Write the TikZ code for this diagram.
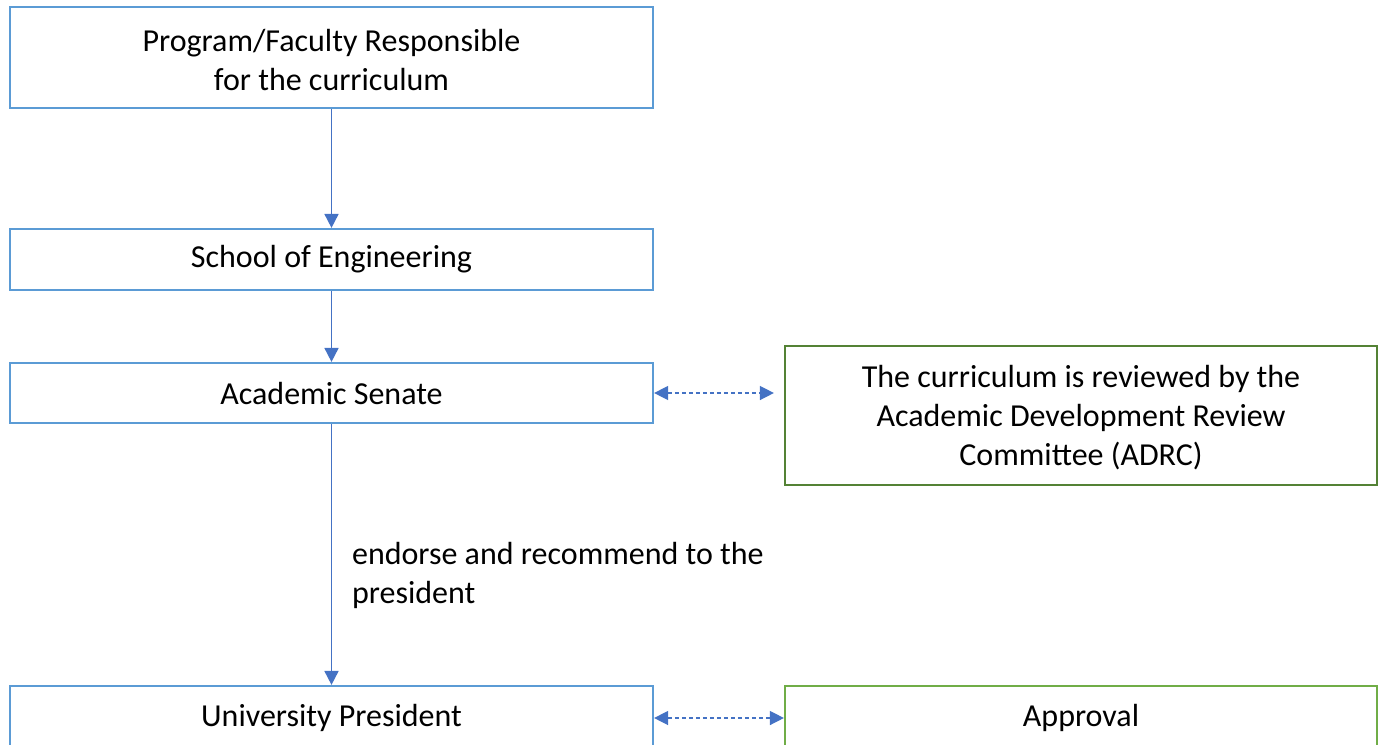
\documentclass[tikz,border=0pt]{standalone}
\usepackage{fontspec}
\setmainfont{Carlito}
\usetikzlibrary{arrows.meta}
\definecolor{boxblue}{HTML}{5B9BD5}
\definecolor{arrblue}{HTML}{4472C4}
\definecolor{dkgreen}{HTML}{548235}
\definecolor{ltgreen}{HTML}{70AD47}
\begin{document}
\begin{tikzpicture}[x=0.5pt,y=-0.5pt,
  txt/.style={font=\fontsize{16}{19.5}\selectfont},
  box/.style={draw=boxblue,line width=1.1pt,minimum width=643*0.5pt,inner sep=0pt,align=center,txt},
  gbox/.style={draw=dkgreen,line width=1.1pt,minimum width=592*0.5pt,inner sep=0pt,align=center,txt},
  flow/.style={draw=arrblue,line width=0.9pt,-{Triangle[width=7pt,length=7pt]}},
  dflow/.style={draw=arrblue,line width=0.7pt,dash pattern=on 2pt off 1.5pt,{Triangle[width=7pt,length=7pt]}-{Triangle[width=7pt,length=7pt]}}]
\clip (0,0) rectangle (1384,744);
\node[box,minimum height=101*0.5pt] (prog) at (331.5,57.5) {\rule{0pt}{14pt}Program/Faculty Responsible\\for the curriculum};
\node[box,minimum height=61*0.5pt] (soe) at (331.5,259.5) {\raisebox{-1.5pt}{School of Engineering}};
\node[box,minimum height=60*0.5pt] (sen) at (331.5,393) {\raisebox{-0.5pt}{Academic Senate}};
\node[box,minimum height=74*0.5pt] (pres) at (331.5,723) {};
\node[txt] (prestext) at (331.5,718) {University President};
\node[gbox,minimum height=139*0.5pt] (adrc) at (1081,415.5) {\rule{0pt}{13pt}The curriculum is reviewed by the\\Academic Development Review\\Committee (ADRC)};
\node[gbox,draw=ltgreen,minimum height=74*0.5pt] (appr) at (1081,723) {};
\node[txt] (apprtext) at (1081,718) {Approval};
\draw[flow] (prog) -- (soe);
\draw[flow] (soe) -- (sen);
\draw[flow] (sen) -- (pres);
\node[anchor=west,align=left,txt] (lbl) at (345,575) {endorse and recommend to the\\president};
\draw[dflow,shorten >=10*0.5pt] (sen.east) -- (sen.east -| adrc.west);
\coordinate (pe) at (pres.east|-prestext);
\coordinate (aw) at (appr.west|-prestext);
\draw[dflow] (pe) -- (aw);
\end{tikzpicture}
\end{document}
